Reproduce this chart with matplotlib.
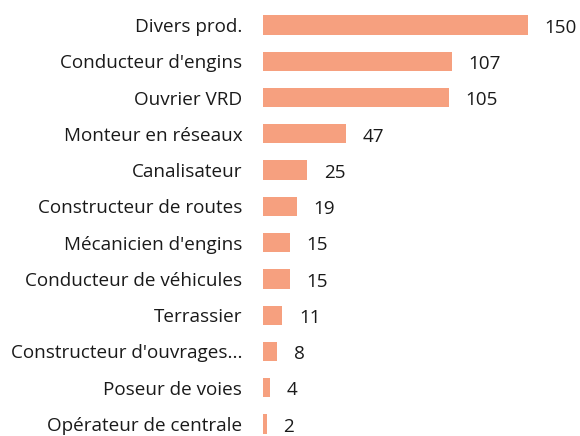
import matplotlib.pyplot as plt

plt.rcParams['font.family'] = ['Open Sans', 'DejaVu Sans']

jobs = ["Divers prod.", "Conducteur d'engins", "Ouvrier VRD", "Monteur en réseaux",
        "Canalisateur", "Constructeur de routes", "Mécanicien d'engins",
        "Conducteur de véhicules", "Terrassier", "Constructeur d'ouvrages...",
        "Poseur de voies", "Opérateur de centrale"]
counts = [150, 107, 105, 47, 25, 19, 15, 15, 11, 8, 4, 2]

bar_color = "#F6A07F"

fig = plt.figure(figsize=(5.8, 4.36), dpi=100)
ax = fig.add_axes([263 / 580, 0, 317 / 580, 1])

pos = list(range(len(jobs)))
bars = ax.barh(pos, counts, height=0.53, color=bar_color)

ax.set_xlim(0, 150 * 317 / 265)
ax.set_ylim((436 - 25) / 36.27, -25 / 36.27)

ax.set_yticks(pos)
ax.set_yticklabels(jobs, fontsize=13.6, color="#1a1a1a")
ax.tick_params(axis="y", length=0, pad=15)
ax.set_xticks([])
for s in ax.spines.values():
    s.set_visible(False)

for b, v in zip(bars, counts):
    ax.annotate(str(v), (b.get_width(), b.get_y() + b.get_height() / 2),
                xytext=(12, -2), textcoords="offset points",
                ha="left", va="center", fontsize=13.6, color="#1a1a1a")

fig.savefig("out.png", dpi=100)
